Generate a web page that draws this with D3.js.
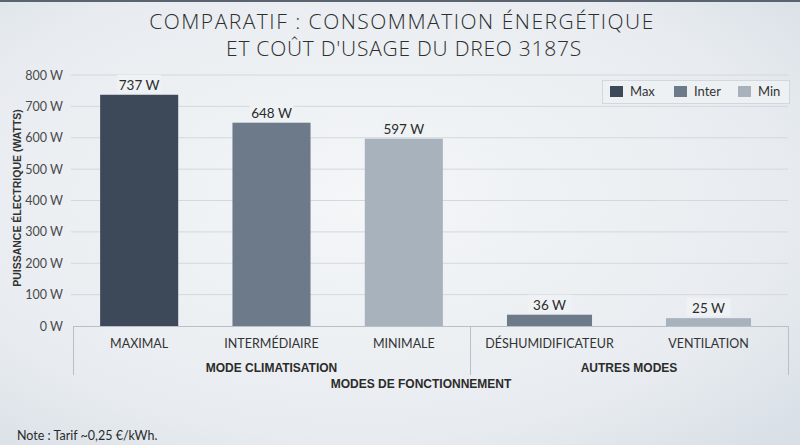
<!DOCTYPE html>
<html>
<head>
<meta charset="utf-8">
<script src="https://cdn.jsdelivr.net/npm/d3@7"></script>
<style>
  body { margin: 0; padding: 0; overflow: hidden; }
  svg { display: block; font-family: "Liberation Sans", Arial, sans-serif; }
</style>
</head>
<body>
<div id="chart"></div>
<script>
// data
const categories = ["MAXIMAL", "INTERMÉDIAIRE", "MINIMALE", "DÉSHUMIDIFICATEUR", "VENTILATION"];
const values = [737, 648, 597, 36, 25];
const levels = ["Max", "Inter", "Min", "Inter", "Min"];
const groups = ["MODE CLIMATISATION", "AUTRES MODES"];
const groupOf = [0, 0, 0, 1, 1];
const legendKeys = ["Max", "Inter", "Min"];
const yTicks = [0, 100, 200, 300, 400, 500, 600, 700, 800];

const w = 800, h = 445;
const plotLeft = 73, plotRight = 788, plotTop = 75, base = 326;
const groupEdges = [plotLeft, 470, plotRight];

const svg = d3.select("#chart").append("svg")
  .attr("width", w)
  .attr("height", h);

// background
const defs = svg.append("defs");
const bg = defs.append("radialGradient").attr("id", "bg")
  .attr("cx", "45%").attr("cy", "45%").attr("r", "75%");
bg.append("stop").attr("offset", "0%").attr("stop-color", "#f4f6f8");
bg.append("stop").attr("offset", "70%").attr("stop-color", "#e8ecf0");
bg.append("stop").attr("offset", "100%").attr("stop-color", "#d8dfe6");
svg.append("rect").attr("width", w).attr("height", h).attr("fill", "url(#bg)");
svg.append("rect").attr("width", w).attr("height", 2).attr("fill", "#5a6470");

const color = d3.scaleOrdinal()
  .domain(legendKeys)
  .range(["#3d4958", "#6d7a8a", "#a8b2bd"]);

// title
const titleLines = ["COMPARATIF : CONSOMMATION ÉNERGÉTIQUE", "ET COÛT D'USAGE DU DREO 3187S"];
svg.append("g")
  .selectAll("text")
  .data(titleLines)
  .join("text")
    .attr("x", (d, i) => i ? 404 : 402)
    .attr("y", (d, i) => 29 + i * 27)
    .attr("text-anchor", "middle")
    .style("font-family", "'Open Sans', sans-serif")
    .style("font-weight", 300)
    .style("font-size", "21px")
    .style("letter-spacing", (d, i) => i ? "0.75px" : "1.5px")
    .attr("fill", "#2e2e2e")
    .text(d => d);

// scales
const y = d3.scaleLinear().domain([0, 800]).range([base, plotTop]);
const groupScales = groups.map((g, gi) => {
  const p = gi === 0 ? 0.41 : 0.465;
  return d3.scaleBand()
    .domain(categories.filter((c, i) => groupOf[i] === gi))
    .range([groupEdges[gi], groupEdges[gi + 1]])
    .paddingInner(p)
    .paddingOuter(p / 2);
});
const xPos = (c, i) => groupScales[groupOf[i]](c);
const bw = i => groupScales[groupOf[i]].bandwidth();

// gridlines
svg.append("g")
  .selectAll("line")
  .data(yTicks.filter(d => d > 0))
  .join("line")
    .attr("x1", 71).attr("x2", plotRight)
    .attr("y1", d => y(d)).attr("y2", d => y(d))
    .attr("stroke", "#d3d8de")
    .attr("stroke-width", 1);

// y axis
const yAxis = d3.axisLeft(y)
  .tickValues(yTicks)
  .tickSize(0)
  .tickPadding(0)
  .tickFormat(d => d + " W");
svg.append("g")
  .attr("transform", "translate(63,0)")
  .call(yAxis)
  .call(g => g.select(".domain").remove())
  .selectAll("text")
    .style("font-family", "Lato, sans-serif")
    .style("font-size", "12.5px")
    .attr("fill", "#4a4a4a");

svg.append("text")
  .attr("transform", "translate(21,198) rotate(-90)")
  .attr("text-anchor", "middle")
  .style("font-size", "10.5px")
  .style("font-weight", "bold")
  .attr("fill", "#333")
  .text("PUISSANCE ÉLECTRIQUE (WATTS)");

// bars
svg.append("g")
  .selectAll("rect")
  .data(values)
  .join("rect")
    .attr("x", (v, i) => xPos(categories[i], i))
    .attr("y", v => y(v))
    .attr("width", (v, i) => bw(i))
    .attr("height", v => base - y(v))
    .attr("fill", (v, i) => color(levels[i]));

// value labels with a background that cuts the grid
const lab = svg.append("g")
  .selectAll("g")
  .data(values)
  .join("g")
    .attr("transform", (v, i) => `translate(${xPos(categories[i], i) + bw(i) / 2},${y(v) - 5})`);
lab.append("rect")
  .attr("x", -22).attr("y", -15).attr("width", 44).attr("height", 18)
  .attr("fill", "#eff2f5");
lab.append("text")
  .attr("text-anchor", "middle")
  .style("font-family", "Lato, sans-serif")
  .style("font-size", "13.5px")
  .attr("fill", "#2b2b2b")
  .text(v => v + " W");

// category axis
const axis = svg.append("g").attr("stroke", "#b9bfc6").attr("stroke-width", 1);
axis.append("line")
  .attr("x1", plotLeft).attr("x2", plotRight)
  .attr("y1", base + 0.5).attr("y2", base + 0.5);
axis.selectAll(".sep")
  .data(groupEdges)
  .join("line")
    .attr("class", "sep")
    .attr("x1", d => d + 0.5).attr("x2", d => d + 0.5)
    .attr("y1", base).attr("y2", 375);

svg.append("g")
  .selectAll("text")
  .data(categories)
  .join("text")
    .attr("x", (c, i) => xPos(c, i) + bw(i) / 2)
    .attr("y", 348)
    .attr("text-anchor", "middle")
    .style("font-family", "Lato, sans-serif")
    .style("font-size", "12.5px")
    .attr("fill", "#333")
    .text(d => d);

svg.append("g")
  .selectAll("text")
  .data(groups)
  .join("text")
    .attr("x", (g, i) => (groupEdges[i] + groupEdges[i + 1]) / 2)
    .attr("y", 372)
    .attr("text-anchor", "middle")
    .style("font-size", "12px")
    .style("font-weight", "bold")
    .attr("fill", "#2b2b2b")
    .text(d => d);

svg.append("text")
  .attr("x", 421).attr("y", 388)
  .attr("text-anchor", "middle")
  .style("font-size", "12px")
  .style("font-weight", "bold")
  .attr("fill", "#2b2b2b")
  .text("MODES DE FONCTIONNEMENT");

// legend
const legend = svg.append("g");
legend.append("rect")
  .attr("x", 602.5).attr("y", 80.5).attr("width", 187).attr("height", 23)
  .attr("fill", "#eef1f4")
  .attr("stroke", "#d2d7dd");
const legX = d3.scalePoint().domain(legendKeys).range([610, 738]);
const item = legend.selectAll(".item")
  .data(legendKeys)
  .join("g")
    .attr("class", "item")
    .attr("transform", d => `translate(${legX(d)},86)`);
item.append("rect")
  .attr("width", 13).attr("height", 11)
  .attr("fill", d => color(d));
item.append("text")
  .attr("x", 20).attr("y", 10)
  .style("font-family", "Lato, sans-serif")
  .style("font-size", "13px")
  .attr("fill", "#333")
  .text(d => d);

// note
svg.append("text")
  .attr("x", 17).attr("y", 440)
  .style("font-family", "Lato, sans-serif")
  .style("font-size", "12.5px")
  .attr("fill", "#2b2b2b")
  .text("Note : Tarif ~0,25 €/kWh.");
</script>
</body>
</html>
